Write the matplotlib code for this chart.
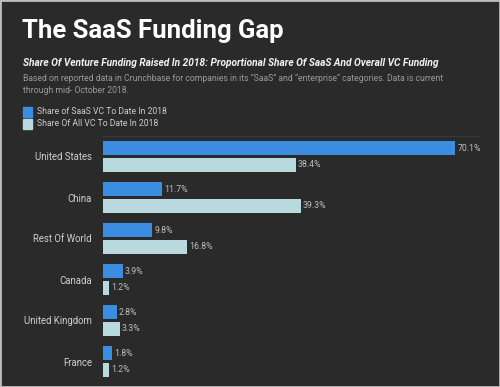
import matplotlib.pyplot as plt
import numpy as np

countries = ['United States', 'China', 'Rest Of World', 'Canada', 'United Kingdom', 'France']
saas_share = [70.1, 11.7, 9.8, 3.9, 2.8, 1.8]
all_vc_share = [38.4, 39.3, 16.8, 1.2, 3.3, 1.2]
series_names = ['Share of SaaS VC To Date In 2018', 'Share Of All VC To Date In 2018']

bg = '#2a2a2a'
blue = '#3a8de0'
pale = '#b8dadf'

plt.rcParams['font.family'] = ['Roboto', 'DejaVu Sans']

fig = plt.figure(figsize=(5, 3.87), dpi=100, facecolor=bg)
W, H = 500, 387

# bars area in pixel coords: x 103..480, y 136..382
ax = fig.add_axes([103 / W, (H - 382) / H, 377 / W, 246 / H])
ax.set_facecolor(bg)

y = np.arange(len(countries))
h = 0.34
off = 0.207
ax.barh(y - off, saas_share, height=h, color=blue)
ax.barh(y + off, all_vc_share, height=h, color=pale)

for yi, v in zip(y, saas_share):
    ax.text(v + 0.4, yi - off, f'{v}%', va='center', ha='left', fontsize=6.3, color='#bdbdbd')
for yi, v in zip(y, all_vc_share):
    ax.text(v + 0.4, yi + off, f'{v}%', va='center', ha='left', fontsize=6.3, color='#bdbdbd')

ax.set_xlim(0, 75)
ax.set_ylim(5.5, -0.5)
ax.set_xticks([])
ax.set_yticks(y)
ax.set_yticklabels(countries, fontsize=6.9, color='#cfcfcf')
ax.tick_params(axis='y', length=0, pad=8)
for s in ['right', 'bottom', 'left']:
    ax.spines[s].set_visible(False)
ax.spines['top'].set_color('#2f3a48')
ax.spines['top'].set_linewidth(0.8)

fig.text(22 / W, 1 - 38 / H, 'The SaaS Funding Gap', fontsize=18.5, fontweight='bold',
         color='white', ha='left', va='baseline')
fig.text(23 / W, 1 - 66 / H,
         'Share Of Venture Funding Raised In 2018: Proportional Share Of SaaS And Overall VC Funding',
         fontsize=7.3, fontweight='bold', style='italic', color='#f2f2f2', ha='left', va='baseline')
fig.text(23 / W, 1 - 81 / H,
         'Based on reported data in Crunchbase for companies in its \u201cSaaS\u201d and \u201centerprise\u201d categories. Data is current',
         fontsize=6.25, color='#9a9a9a', ha='left', va='baseline')
fig.text(23 / W, 1 - 93 / H, 'through mid- October 2018.',
         fontsize=6.25, color='#9a9a9a', ha='left', va='baseline')

for i, (name, c) in enumerate(zip(series_names, [blue, pale])):
    yc = 112 + i * 12
    fig.patches.append(plt.Rectangle((23 / W, 1 - (yc + 4.5) / H), 9 / W, 9 / H,
                                     transform=fig.transFigure, color=c))
    fig.text(37 / W, 1 - yc / H, name, fontsize=6.2, color='#cccccc', ha='left', va='center')

fig.patches.append(plt.Rectangle((0, 0), 1, 1, transform=fig.transFigure, fill=False,
                                 edgecolor='#bcbcbc', linewidth=2))

fig.savefig('out.png', dpi=100, facecolor=bg)
